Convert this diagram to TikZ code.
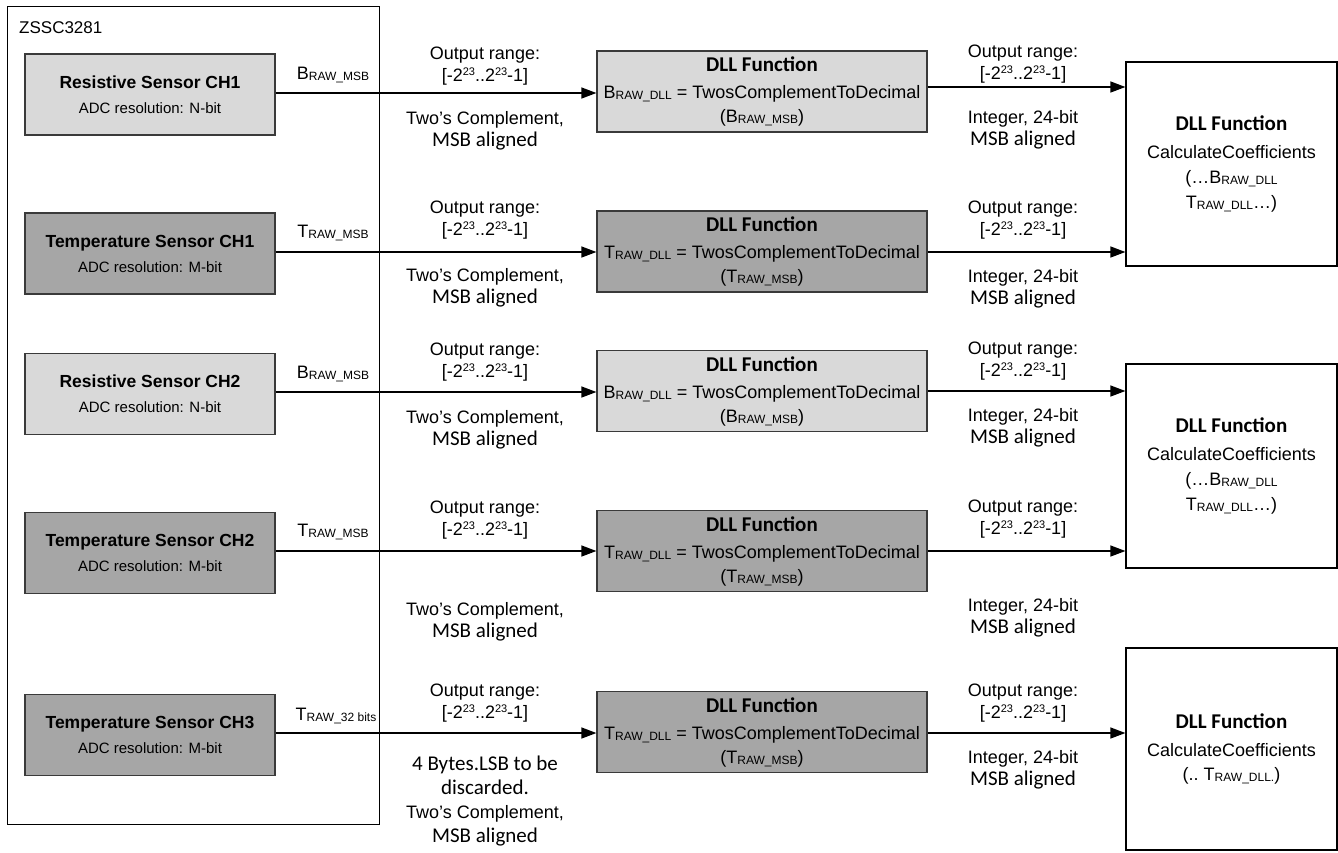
\documentclass[tikz,border=0pt]{standalone}
\usepackage{fontspec}
\setmainfont{Liberation Sans}
\newfontfamily\calfont{Carlito}
\usetikzlibrary{arrows.meta}
\definecolor{lightfill}{HTML}{D9D9D9}
\definecolor{darkfill}{HTML}{A6A6A6}
\definecolor{boxline}{HTML}{3A3A3A}
\newcommand{\lo}[1]{\raisebox{-1pt}{\fontsize{12}{12}\selectfont #1}}
\newcommand{\hi}[1]{\raisebox{6pt}{\fontsize{11}{11}\selectfont #1}}
\newcommand{\rng}{[-2\hi{23}..2\hi{23}-1]}
\newcommand{\msb}{{\calfont\fontsize{21}{22}\selectfont MSB aligned}}
\newcommand{\ttl}[1]{{\calfont\bfseries\fontsize{21}{22}\selectfont #1}}
\newcommand{\stitle}[1]{{\bfseries\fontsize{17.5}{22}\selectfont #1}}
\newcommand{\sres}[1]{{\fontsize{15}{22}\selectfont ADC resolution: #1}}
\begin{document}
\begin{tikzpicture}[x=1pt,y=-1pt,
  base/.style={font=\fontsize{18}{22}\selectfont, align=center, inner sep=0pt},
  lbl/.style={base},
  outerbox/.style={draw=black, line width=1pt, inner sep=0pt},
  sensorbox/.style={base, draw=boxline, line width=1.2pt, minimum width=250pt, minimum height=81pt},
  resbox/.style={sensorbox, fill=lightfill},
  tempbox/.style={sensorbox, fill=darkfill},
  dllbox/.style={base, draw=boxline, line width=1.2pt, minimum width=330pt, minimum height=81pt},
  calcbox/.style={base, draw=black, line width=1.2pt, fill=white, minimum width=211pt},
  arr/.style={line width=1.3pt, -{Triangle[length=15pt,width=11pt]}},
]
\path[use as bounding box] (0,0) rectangle (1338,852);

% chip frame
\node[outerbox, minimum width=372pt, minimum height=818pt] (chip) at (193,415) {};
\node[base, anchor=west, font=\fontsize{17}{20}\selectfont] (chipname) at (19,28) {ZSSC3281};

% sensors
\node[resbox]  (s1) at (150,94.5) {\stitle{Resistive Sensor CH1}\\[3pt]\sres{N-bit}};
\node[tempbox] (s2) at (150,253.5) {\stitle{Temperature Sensor CH1}\\[3pt]\sres{M-bit}};
\node[resbox]  (s3) at (150,394) {\stitle{Resistive Sensor CH2}\\[3pt]\sres{N-bit}};
\node[tempbox] (s4) at (150,553) {\stitle{Temperature Sensor CH2}\\[3pt]\sres{M-bit}};
\node[tempbox] (s5) at (150,735) {\stitle{Temperature Sensor CH3}\\[3pt]\sres{M-bit}};

% DLL conversion boxes
\node[dllbox, fill=lightfill] (d1) at (762,91.5) {\ttl{DLL Function}\\[5pt]B\lo{RAW\_DLL} = TwosComplementToDecimal\\[2pt](B\lo{RAW\_MSB})};
\node[dllbox, fill=darkfill]  (d2) at (762,251.5) {\ttl{DLL Function}\\[5pt]T\lo{RAW\_DLL} = TwosComplementToDecimal\\[2pt](T\lo{RAW\_MSB})};
\node[dllbox, fill=lightfill] (d3) at (762,391) {\ttl{DLL Function}\\[5pt]B\lo{RAW\_DLL} = TwosComplementToDecimal\\[2pt](B\lo{RAW\_MSB})};
\node[dllbox, fill=darkfill]  (d4) at (762,551) {\ttl{DLL Function}\\[5pt]T\lo{RAW\_DLL} = TwosComplementToDecimal\\[2pt](T\lo{RAW\_MSB})};
\node[dllbox, fill=darkfill]  (d5) at (762,732) {\ttl{DLL Function}\\[5pt]T\lo{RAW\_DLL} = TwosComplementToDecimal\\[2pt](T\lo{RAW\_MSB})};

% coefficient boxes
\node[calcbox, minimum height=204pt] (c1) at (1231.5,164) {\ttl{DLL Function}\\[6pt]CalculateCoefficients\\[3pt](\dots B\lo{RAW\_DLL}\\[3pt]T\lo{RAW\_DLL}\dots)};
\node[calcbox, minimum height=204pt] (c2) at (1231.5,466) {\ttl{DLL Function}\\[6pt]CalculateCoefficients\\[3pt](\dots B\lo{RAW\_DLL}\\[3pt]T\lo{RAW\_DLL}\dots)};
\node[calcbox, minimum height=202pt] (c3) at (1231.5,749) {\ttl{DLL Function}\\[6pt]CalculateCoefficients\\[2pt](..\ T\lo{RAW\_DLL.})};

% row levels of the connectors
\coordinate (l1) at (0,93);  \coordinate (r1) at (0,87);
\coordinate (l2) at (0,252); \coordinate (r2) at (0,252);
\coordinate (l3) at (0,392); \coordinate (r3) at (0,391);
\coordinate (l4) at (0,551); \coordinate (r4) at (0,551);
\coordinate (l5) at (0,733); \coordinate (r5) at (0,733);

% connectors sensor -> DLL
\draw[arr] (s1.east |- l1) -- (d1.west |- l1);
\draw[arr] (s2.east |- l2) -- (d2.west |- l2);
\draw[arr] (s3.east |- l3) -- (d3.west |- l3);
\draw[arr] (s4.east |- l4) -- (d4.west |- l4);
\draw[arr] (s5.east |- l5) -- (d5.west |- l5);
% connectors DLL -> coefficients
\draw[arr] (d1.east |- r1) -- (c1.west |- r1);
\draw[arr] (d2.east |- r2) -- (c1.west |- r2);
\draw[arr] (d3.east |- r3) -- (c2.west |- r3);
\draw[arr] (d4.east |- r4) -- (c2.west |- r4);
\draw[arr] (d5.east |- r5) -- (c3.west |- r5);

% signal names
\node[lbl] (n1) at (333,75)  {B\lo{RAW\_MSB}};
\node[lbl] (n2) at (333,233) {T\lo{RAW\_MSB}};
\node[lbl] (n3) at (333,374) {B\lo{RAW\_MSB}};
\node[lbl] (n4) at (333,532) {T\lo{RAW\_MSB}};
\node[lbl] (n5) at (336,716) {T\lo{RAW\_32 bits}};

% left labels
\node[lbl] (la1) at (485,66)  {Output range:\\\rng};
\node[lbl] (lb1) at (485,131) {Two's Complement,\\\msb};
\node[lbl] (la2) at (485,220) {Output range:\\\rng};
\node[lbl] (lb2) at (485,288) {Two's Complement,\\\msb};
\node[lbl] (la3) at (485,362) {Output range:\\\rng};
\node[lbl] (lb3) at (485,430) {Two's Complement,\\\msb};
\node[lbl] (la4) at (485,520) {Output range:\\\rng};
\node[lbl] (lb4) at (485,622) {Two's Complement,\\\msb};
\node[lbl] (la5) at (485,703) {Output range:\\\rng};
\node[lbl] (lb5) at (485,801) {{\calfont\fontsize{21}{22}\selectfont 4 Bytes.LSB to be}\\[2pt]{\calfont\fontsize{21}{22}\selectfont discarded.}\\[2pt]Two's Complement,\\[2pt]\msb};

% right labels
\node[lbl] (ra1) at (1023,64)  {Output range:\\\rng};
\node[lbl] (rb1) at (1023,130) {Integer, 24-bit\\\msb};
\node[lbl] (ra2) at (1023,220) {Output range:\\\rng};
\node[lbl] (rb2) at (1023,289) {Integer, 24-bit\\\msb};
\node[lbl] (ra3) at (1023,361) {Output range:\\\rng};
\node[lbl] (rb3) at (1023,428) {Integer, 24-bit\\\msb};
\node[lbl] (ra4) at (1023,519) {Output range:\\\rng};
\node[lbl] (rb4) at (1023,618) {Integer, 24-bit\\\msb};
\node[lbl] (ra5) at (1023,703) {Output range:\\\rng};
\node[lbl] (rb5) at (1023,770) {Integer, 24-bit\\\msb};
\end{tikzpicture}
\end{document}
